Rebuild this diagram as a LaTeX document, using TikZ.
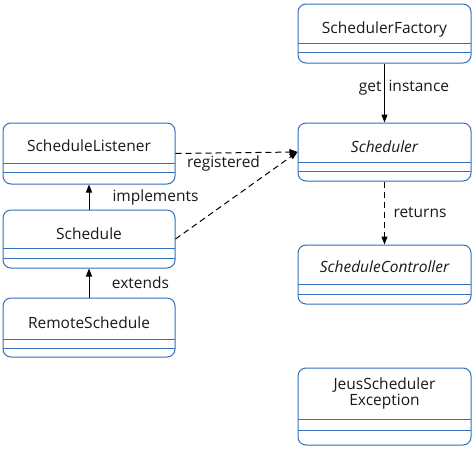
\documentclass[tikz,border=0pt]{standalone}
\usepackage{fontspec}
\setmainfont{Open Sans}
\usetikzlibrary{arrows.meta}
\definecolor{boxblue}{RGB}{52,112,185}
\definecolor{txt}{RGB}{25,25,25}
\newcommand\umlbox[8]{%
  % #1 name, #2 x1, #3 y1, #4 x2, #5 y2, #6 line1, #7 line2, #8 text style
  \node[classbox, minimum width={#4-#2}, minimum height={#5-#3}] (#1) at ({(#2+#4)/2},{(#3+#5)/2}) {};
  \draw[boxblue, line width=1pt] (#2,#6) -- (#4,#6);
  \draw[boxblue, line width=1pt] (#2,#7) -- (#4,#7);
}
\begin{document}
\begin{tikzpicture}[x=1pt,y=-1pt,
  classbox/.style={draw=boxblue, line width=1pt, rounded corners=8pt, inner sep=0pt},
  cname/.style={font=\fontsize{15.5}{18}\selectfont, text=txt, inner sep=0pt, align=center},
  lbl/.style={font=\fontsize{15.5}{18}\selectfont, text=txt, inner sep=0pt},
  solidarr/.style={-{Triangle[length=8pt,width=6pt]}, line width=1pt},
  dasharr/.style={-{Triangle[length=8pt,width=6pt]}, line width=1pt, dash pattern=on 6pt off 4pt}]
\useasboundingbox (0,0) rectangle (475,450);
\fill[white] (0,0) rectangle (475,450);

\umlbox{sf}{298}{4}{471}{63}{43}{52}{}
\node[cname] (sft) at (384.5,29) {SchedulerFactory};

\umlbox{sch}{298}{123}{471}{181}{162}{171}{}
\node[cname, font=\fontsize{15.5}{18}\selectfont\itshape] (scht) at (384.5,147) {Scheduler};

\umlbox{sc}{298}{245}{471}{304}{284}{294}{}
\node[cname, font=\fontsize{15.5}{18}\selectfont\itshape] (sct) at (384.5,267) {ScheduleController};

\umlbox{jse}{298}{368}{471}{445}{419}{430}{}
\node[cname] (jset) at (384.5,393.5) {JeusScheduler\\[-2pt]Exception};

\umlbox{sl}{3}{123}{175}{184}{163}{172}{}
\node[cname] (slt) at (89,146) {ScheduleListener};

\umlbox{s}{3}{210}{175}{268}{248}{258}{}
\node[cname] (st) at (89,234) {Schedule};

\umlbox{rs}{3}{298}{175}{357}{339}{348}{}
\node[cname] (rst) at (89,323) {RemoteSchedule};

\draw[solidarr] (sf.south) -- (sch.north);
\draw[dasharr] (sch.south) -- (sc.north);
\draw[solidarr] (s.north) -- (sl.south);
\draw[solidarr] (rs.north) -- (s.south);
\draw[dasharr] (sl.east) -- (sch.west);
\draw[dasharr] (s.east) -- (sch.west);

\node[lbl] (l1) at (404,88) {get\hspace{7pt}instance};
\node[lbl] (l2) at (420,212) {returns};
\node[lbl] (l3) at (155.5,197) {implements};
\node[lbl] (l4) at (140.5,283) {extends};
\node[lbl] (l5) at (223.5,163) {registered};
\end{tikzpicture}
\end{document}
